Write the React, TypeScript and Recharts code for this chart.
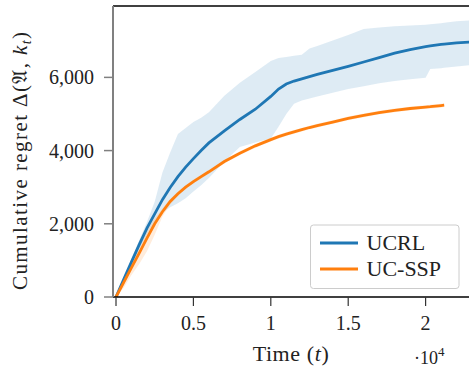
import React from 'react';
import { ComposedChart, Area, Line, XAxis, YAxis, ReferenceLine } from 'recharts';

// time steps (t) shared by all series
const TIME = [0, 500, 1000, 1500, 2000, 2500, 3000, 3500, 4000, 4500, 5000, 5500, 6000, 7000, 8000, 9000, 10000, 10500, 11000, 11500, 12000, 12500, 13000, 14000, 15000, 16000, 17000, 18000, 19000, 20000, 20300, 21000, 21200, 22000, 23000];

const UCRL_MEAN = [0, 480, 960, 1430, 1880, 2270, 2660, 2990, 3290, 3550, 3780, 4000, 4210, 4540, 4850, 5130, 5480, 5680, 5820, 5900, 5960, 6020, 6080, 6190, 6300, 6420, 6540, 6660, 6760, 6840, 6860, 6900, 6910, 6940, 6970];
const UCRL_HIGH = [0, 520, 1040, 1550, 2050, 2600, 3400, 3950, 4450, 4620, 4780, 4900, 5050, 5500, 5850, 6150, 6450, 6530, 6560, 6590, 6620, 6790, 6860, 7010, 7160, 7320, 7360, 7400, 7420, 7440, 7450, 7480, 7490, 7530, 7560];
const UCRL_LOW = [0, 420, 860, 1300, 1700, 2050, 2300, 2450, 2560, 2700, 2880, 3050, 3250, 3700, 4100, 4220, 4330, 4650, 5000, 5280, 5370, 5420, 5480, 5580, 5680, 5760, 5840, 5900, 5950, 5990, 6230, 6250, 6260, 6300, 6340];

const UCSSP_MEAN = [0, 400, 800, 1200, 1610, 2000, 2330, 2610, 2820, 3000, 3150, 3290, 3420, 3700, 3930, 4130, 4300, 4380, 4450, 4510, 4570, 4630, 4680, 4780, 4880, 4960, 5040, 5100, 5150, 5190, 5200, 5230, 5240, null, null];
const UCSSP_HIGH = [0, 480, 950, 1420, 1850, 2150, 2420, 2680, 2880, 3050, 3200, 3340, 3470, 3750, 3980, 4180, 4350, 4430, 4500, 4560, 4620, 4680, 4730, 4830, 4930, 5010, 5090, 5150, 5200, 5240, 5250, 5280, 5290, null, null];
const UCSSP_LOW = [0, 250, 600, 900, 1250, 1700, 2200, 2530, 2760, 2950, 3100, 3240, 3370, 3650, 3880, 4080, 4250, 4330, 4400, 4460, 4520, 4580, 4630, 4730, 4830, 4910, 4990, 5050, 5100, 5140, 5150, 5180, 5190, null, null];

const X_TICKS = [0, 5000, 10000, 15000, 20000];
const Y_TICKS = [0, 2000, 4000, 6000];

const BLUE = '#1f77b4';
const ORANGE = '#ff7f0e';
const FONT = "'Liberation Serif', 'Times New Roman', 'DejaVu Serif', serif";

const rows = TIME.map((t, i) => ({
  t,
  ucrl: UCRL_MEAN[i],
  ucrlBand: [UCRL_LOW[i], UCRL_HIGH[i]],
  ucssp: UCSSP_MEAN[i],
  ucsspBand: UCSSP_MEAN[i] == null ? null : [UCSSP_LOW[i], UCSSP_HIGH[i]],
}));

const fmtX = (v: number) => String(v / 10000);
const fmtY = (v: number) => v.toLocaleString('en-US');

const tickStyle = { fill: '#222', fontSize: 20, style: { fontFamily: FONT } };

export default function App() {
  return (
    <div style={{ position: 'absolute', left: 0, top: 0, width: 469, height: 368, overflow: 'hidden', background: '#fff', fontFamily: FONT }}>
      <ComposedChart
        width={480}
        height={368}
        data={rows}
        margin={{ top: 6, right: 5, bottom: 0, left: 0 }}
        style={{ fontFamily: FONT }}
      >
        <XAxis
          dataKey="t"
          type="number"
          domain={[-194, 23191]}
          allowDataOverflow
          ticks={X_TICKS}
          tickFormatter={fmtX}
          height={71}
          tickSize={9}
          tickMargin={10}
          axisLine={{ stroke: '#000', strokeWidth: 1.3 }}
          tickLine={{ stroke: '#333', strokeWidth: 1.2 }}
          tick={tickStyle}
        />
        <YAxis
          type="number"
          domain={[0, 7950]}
          allowDataOverflow
          ticks={Y_TICKS}
          tickFormatter={fmtY}
          width={113}
          tickSize={9}
          tickMargin={10}
          axisLine={{ stroke: '#808080', strokeWidth: 2 }}
          tickLine={{ stroke: '#808080', strokeWidth: 1.5 }}
          tick={tickStyle}
        />
        <ReferenceLine y={7950} stroke="#000" strokeWidth={1.3} />
        <Area dataKey="ucrlBand" type="linear" stroke="none" fill={BLUE} fillOpacity={0.15} isAnimationActive={false} />
        <Area dataKey="ucsspBand" type="linear" stroke="none" fill={ORANGE} fillOpacity={0.15} isAnimationActive={false} />
        <Line dataKey="ucrl" type="linear" stroke={BLUE} strokeWidth={2.8} dot={false} isAnimationActive={false} />
        <Line dataKey="ucssp" type="linear" stroke={ORANGE} strokeWidth={2.8} dot={false} isAnimationActive={false} />
      </ComposedChart>

      <svg width={469} height={368} style={{ position: 'absolute', left: 0, top: 0, pointerEvents: 'none', fontFamily: FONT }}>
        <g fill="#222">
          {/* y label: words, then the math part */}
          <text transform="translate(27,290) rotate(-90)" fontSize={21} textLength={175} lengthAdjust="spacing">
            Cumulative regret
          </text>
          <text transform="translate(27,107) rotate(-90)" fontSize={21} textLength={75} lengthAdjust="spacing">
            Δ(𝔄, <tspan fontStyle="italic">k</tspan>
            <tspan fontStyle="italic" fontSize={14} dy={4}>t</tspan>
            <tspan dy={-4}>)</tspan>
          </text>
          <text x={291} y={361} textAnchor="middle" fontSize={22} letterSpacing={0.6}>
            Time (<tspan fontStyle="italic">t</tspan>)
          </text>
          <text x={414} y={364} fontSize={18}>
            ·10<tspan fontSize={13} dy={-8}>4</tspan>
          </text>
        </g>
        <rect x={310.5} y={225} width={148.5} height={63.5} rx={3} fill="#fff" fillOpacity={0.8} stroke="#ccc" strokeWidth={1} />
        <line x1={320} x2={358} y1={243} y2={243} stroke={BLUE} strokeWidth={3} />
        <line x1={320} x2={358} y1={269} y2={269} stroke={ORANGE} strokeWidth={3} />
        <g fill="#222" fontSize={22}>
          <text x={366.5} y={250}>UCRL</text>
          <text x={366.5} y={276}>UC-SSP</text>
        </g>
      </svg>
    </div>
  );
}
